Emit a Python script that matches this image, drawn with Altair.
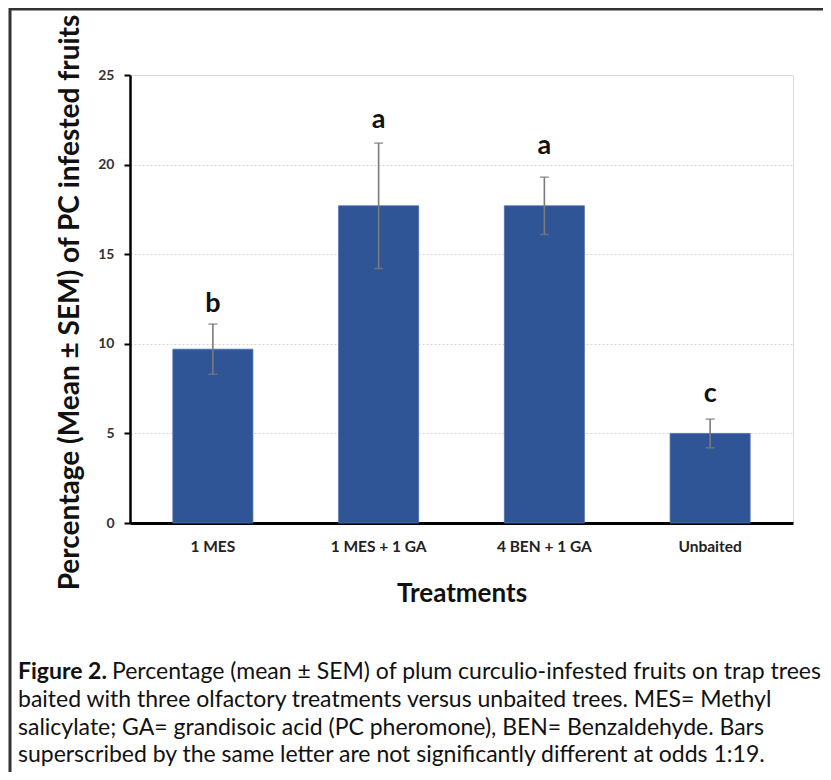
import altair as alt
import pandas as pd

treatments = ["1 MES", "1 MES + 1 GA", "4 BEN + 1 GA", "Unbaited"]
means = [9.7, 17.7, 17.7, 5.0]
sems = [1.4, 3.5, 1.6, 0.8]
letters = ["b", "a", "a", "c"]
letter_y = [12.2, 22.5, 21.05, 7.2]
y_ticks = [0, 5, 10, 15, 20, 25]

caption_bold = "Figure 2."
caption_lines = [
    "Percentage (mean \u00b1 SEM) of plum curculio-infested fruits on trap trees",
    "baited with three olfactory treatments versus unbaited trees. MES= Methyl",
    "salicylate; GA= grandisoic acid (PC pheromone), BEN= Benzaldehyde. Bars",
    "superscribed by the same letter are not significantly different at odds 1:19.",
]

df = pd.DataFrame({
    "treatment": treatments,
    "mean": means,
    "lo": [m - s for m, s in zip(means, sems)],
    "hi": [m + s for m, s in zip(means, sems)],
    "letter": letters,
    "ly": letter_y,
})

FONT = "Lato"
W, H = 663, 448
TOTAL_W, TOTAL_H = 815, 764

x = alt.X("treatment:N", sort=treatments,
          scale=alt.Scale(paddingInner=0.517, paddingOuter=0.2585),
          axis=alt.Axis(title="Treatments", labelAngle=0, ticks=False,
                        domainColor="black", domainWidth=3,
                        labelFont=FONT, labelFontWeight="bold", labelFontSize=15.5,
                        labelColor="#222", labelPadding=16,
                        titleFont=FONT, titleFontWeight="bold", titleFontSize=26,
                        titleColor="#111", titleY=70, titleBaseline="middle"))
y = alt.Y("mean:Q", scale=alt.Scale(domain=[0, 25], nice=False),
          axis=alt.Axis(values=y_ticks, title="Percentage (Mean \u00b1 SEM) of PC infested fruits",
                        domainColor="black", domainWidth=2.5,
                        tickColor="black", tickWidth=2, tickSize=6,
                        labelFont=FONT, labelFontWeight="bold", labelFontSize=14,
                        labelColor="#333", labelPadding=10,
                        grid=True, gridColor="#d4d4d4", gridDash=[2, 2], gridWidth=1,
                        titleFont=FONT, titleFontWeight="bold", titleFontSize=28,
                        titleColor="#111", titleX=-60, titleY=H / 2 + 3,
                        titleBaseline="middle", titleAlign="center", titleAngle=-90))

base = alt.Chart(df)
bars = base.mark_bar(color="#2F5597", stroke="#4a6fb0", strokeWidth=0.8).encode(x=x, y=y)
rules = base.mark_rule(color="#7a7a7a", strokeWidth=1.6).encode(
    x=alt.X("treatment:N", sort=treatments), y="lo:Q", y2="hi:Q")
caps_hi = base.mark_tick(color="#7a7a7a", thickness=1.6, size=9, orient="horizontal").encode(
    x=alt.X("treatment:N", sort=treatments), y="hi:Q")
caps_lo = base.mark_tick(color="#7a7a7a", thickness=1.6, size=9, orient="horizontal").encode(
    x=alt.X("treatment:N", sort=treatments), y="lo:Q")
labels = base.mark_text(font=FONT, fontWeight="bold", fontSize=27, color="#111",
                        baseline="middle").encode(
    x=alt.X("treatment:N", sort=treatments), y="ly:Q", text="letter:N")

one = pd.DataFrame({"k": [0]})
frame = alt.Chart(one).mark_rect(filled=False, stroke="#333", strokeWidth=3).encode(
    x=alt.value(-120), x2=alt.value(760), y=alt.value(-66), y2=alt.value(760))

cap_layers = []
cap_font = 23
line_y = [597, 625, 653, 680]
cap_layers.append(alt.Chart(one).mark_text(
    text=caption_bold, font=FONT, fontSize=cap_font, fontWeight="bold", align="left",
    baseline="middle", color="#111").encode(x=alt.value(-112), y=alt.value(line_y[0])))
for i, line in enumerate(caption_lines):
    cap_layers.append(alt.Chart(one).mark_text(
        text=line, font=FONT, fontSize=cap_font, align="left", baseline="middle",
        color="#111").encode(x=alt.value(-112 + (94 if i == 0 else 0)), y=alt.value(line_y[i])))

chart = alt.layer(frame, bars, rules, caps_hi, caps_lo, labels, *cap_layers).properties(
    width=W, height=H,
    autosize=alt.AutoSizeParams(type="none"),
    padding={"left": 122, "top": 67, "right": TOTAL_W - 122 - W, "bottom": TOTAL_H - 67 - H},
).configure_view(stroke=None).configure(background="white")

chart.save("out.html", embed_options={"renderer": "svg", "actions": False})
